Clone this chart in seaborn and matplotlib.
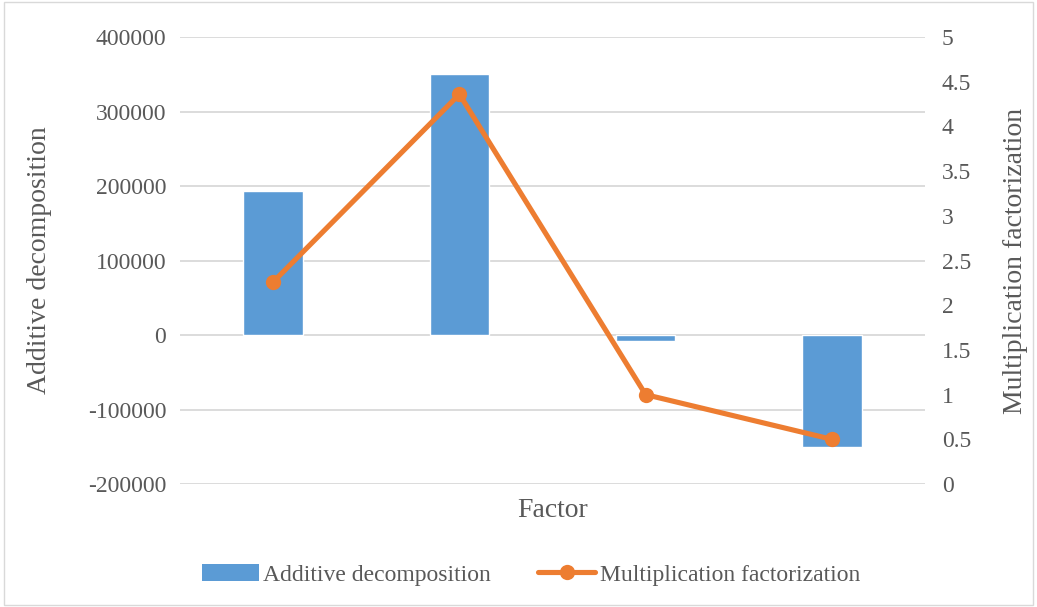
import matplotlib as mpl
import matplotlib.pyplot as plt
import seaborn as sns
import pandas as pd
from matplotlib.patches import Patch, Rectangle
from matplotlib.lines import Line2D
from matplotlib.ticker import FuncFormatter

mpl.use("Agg")

sns.set_style("white")
plt.rcParams["font.family"] = ["Liberation Serif", "DejaVu Serif"]
plt.rcParams["axes.unicode_minus"] = False

TICKSIZE = 17
LABELSIZE = 20
TEXT = "#595959"
BLUE = "#5B9BD5"
ORANGE = "#ED7D31"

factors = ["F1", "F2", "F3", "F4"]
additive = [193500, 350000, -8000, -150000]
multiplicative = [2.26, 4.36, 1.0, 0.5]

df = pd.DataFrame({"Factor": factors, "Additive": additive, "Mult": multiplicative})

fig = plt.figure(figsize=(10.37, 6.07), dpi=100)
ax = fig.add_axes([0.1736, 0.2026, 0.892 - 0.1736, 0.939 - 0.2026])

sns.barplot(data=df, x="Factor", y="Additive", color=BLUE, width=0.32,
            saturation=1, ax=ax, zorder=2)
ax.set_ylim(-200000, 400000)
ax.set_yticks(range(-200000, 400001, 100000))
ax.yaxis.grid(True, color="#D9D9D9", linewidth=1.3, zorder=0)
ax.set_axisbelow(True)
ax.set_xticks([])
ax.set_xlabel("Factor", fontsize=LABELSIZE, color=TEXT, labelpad=10)
ax.set_ylabel("Additive decomposition", fontsize=LABELSIZE, color=TEXT, labelpad=26)
ax.tick_params(axis="y", labelsize=TICKSIZE, labelcolor=TEXT, length=0, pad=10)
sns.despine(ax=ax, left=True, bottom=True)

ax2 = ax.twinx()
sns.lineplot(data=df, x="Factor", y="Mult", color=ORANGE, linewidth=3.7,
             marker="o", markersize=11, markeredgewidth=0, sort=False, ax=ax2)
ax2.set_ylim(0, 5)
ax2.set_yticks([i * 0.5 for i in range(11)])
ax2.yaxis.set_major_formatter(FuncFormatter(lambda v, p: f"{v:g}"))
ax2.set_ylabel("Multiplication factorization", fontsize=LABELSIZE, color=TEXT, labelpad=23)
ax2.tick_params(axis="y", labelsize=TICKSIZE, labelcolor=TEXT, length=0, pad=12)
for s in ax2.spines.values():
    s.set_visible(False)

# keep the category slots evenly spread over the plot area
ax.set_xlim(-0.5, len(factors) - 0.5)

handles = [
    Patch(facecolor=BLUE, edgecolor="none"),
    Line2D([0], [0], color=ORANGE, linewidth=3.7, marker="o", markersize=11,
           markeredgewidth=0),
]
fig.legend(handles, ["Additive decomposition", "Multiplication factorization"],
           loc="center", bbox_to_anchor=(0.512, 0.053), ncol=2, frameon=False,
           fontsize=TICKSIZE, labelcolor=TEXT, handlelength=2.4, handletextpad=0.2,
           columnspacing=2.0)

fig.patches.append(Rectangle((0.004, 0.004), 0.992, 0.992, transform=fig.transFigure,
                             fill=False, edgecolor="#D9D9D9", linewidth=1))

fig.savefig("out.png", dpi=100)
